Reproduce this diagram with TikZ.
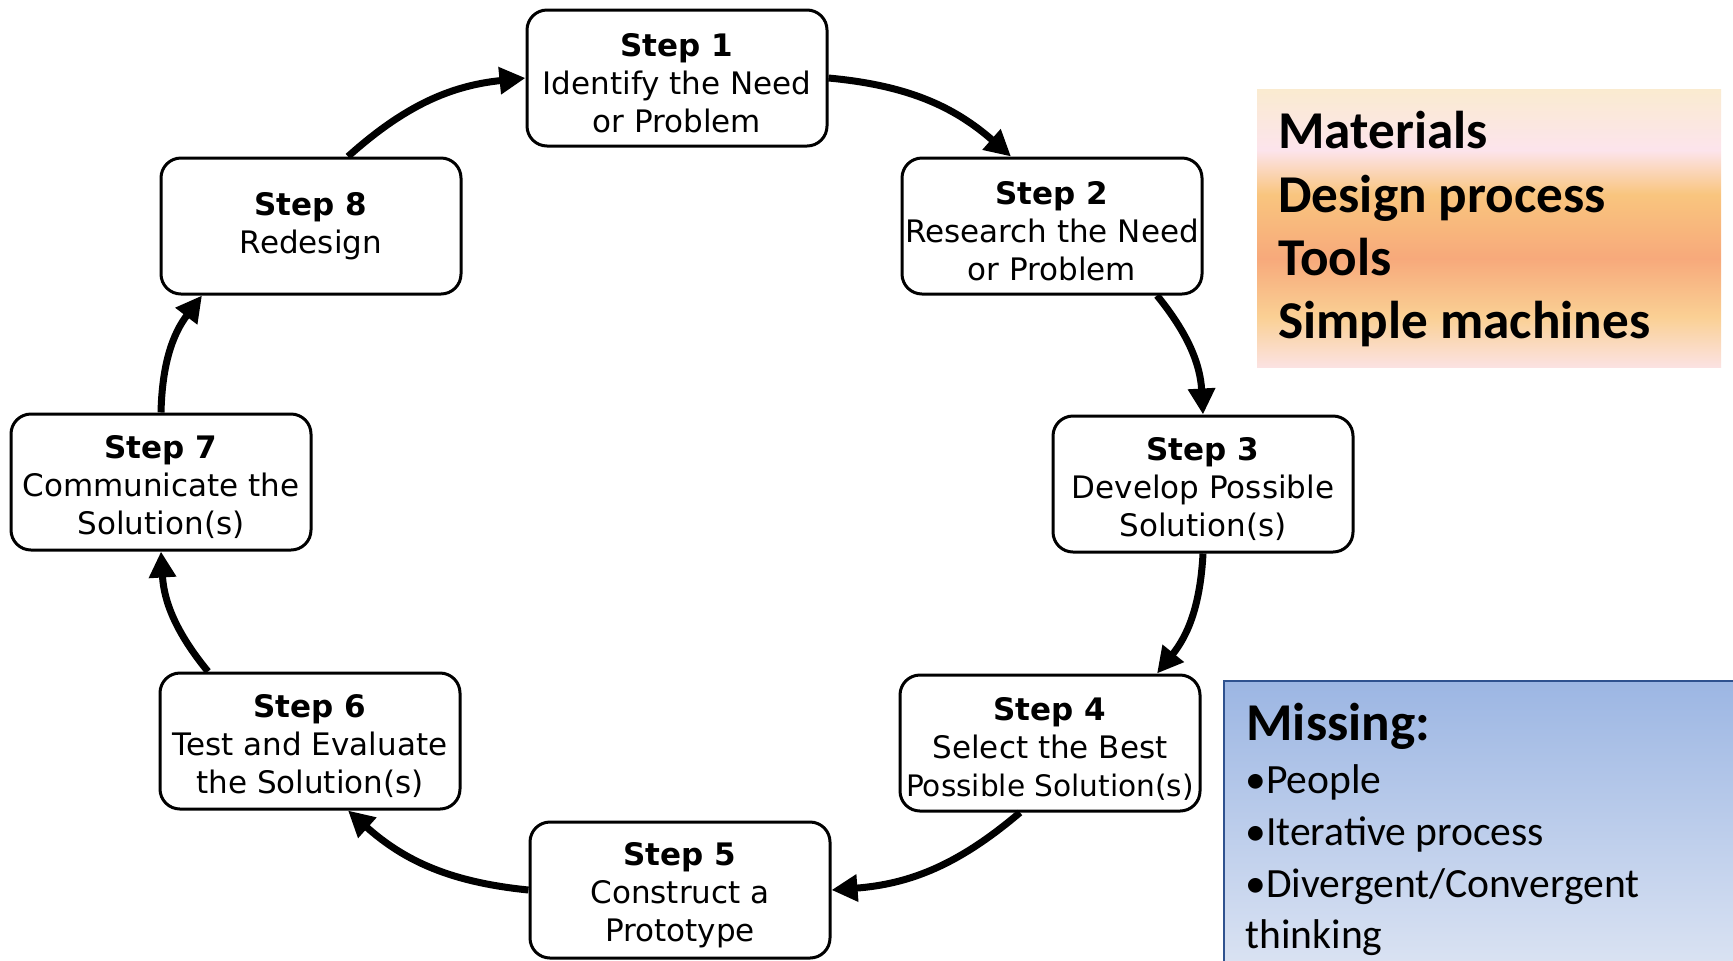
\documentclass[tikz,border=0pt]{standalone}
\usepackage{fontspec}
\setmainfont{DejaVu Sans}
\newfontfamily\calib{Carlito}
\usetikzlibrary{arrows.meta}

% colours of the warm note band (top to bottom)
\definecolor{wbA}{HTML}{FAEBD0}
\definecolor{wbB}{HTML}{FCE4EC}
\definecolor{wbC}{HTML}{F9C57E}
\definecolor{wbD}{HTML}{F7A97B}
\definecolor{wbE}{HTML}{FAD094}
\definecolor{wbF}{HTML}{FBE2E2}
\definecolor{noteTop}{HTML}{9CB6E3}
\definecolor{noteBot}{HTML}{DCE4F3}
\definecolor{noteEdge}{HTML}{2F528F}

\pgfdeclareverticalshading{warmband}{100bp}{%
  color(0bp)=(wbF); color(25bp)=(wbF); color(34bp)=(wbE); color(44.5bp)=(wbD);
  color(56bp)=(wbC); color(64bp)=(wbB); color(75bp)=(wbA); color(100bp)=(wbA)}

\newcommand\stepfont{\fontsize{15.5pt}{19pt}\selectfont}
% heading of a three-line step box, with a taller strut to lower the block
\newcommand\stephead[1]{\rule{0pt}{17pt}\textbf{#1}}
% slightly narrower setting for the longest line
\newcommand\narrowline[1]{{\fontsize{14.8pt}{19pt}\selectfont #1}}

\tikzset{
  stepbox/.style={draw, line width=1.5pt, rounded corners=10pt,
    minimum width=150pt, minimum height=68pt, inner sep=0pt,
    align=center, font=\stepfont},
  flow/.style={line width=3.5pt, -{Triangle[length=13pt,width=13pt]}, bend left=18},
  bigline/.style={anchor=base west, inner sep=0pt,
    font={\calib\bfseries\fontsize{26.6pt}{32pt}\selectfont}},
  itemline/.style={anchor=base west, inner sep=0pt,
    font={\calib\fontsize{20.8pt}{26pt}\selectfont}},
}

\begin{document}
\begin{tikzpicture}[x=0.5pt, y=-0.5pt]
\useasboundingbox (0,0) rectangle (1733,960);

% the eight steps of the cycle
\node[stepbox] (s1) at (677,78)  {\stephead{Step 1}\\Identify the Need\\or Problem};
\node[stepbox] (s2) at (1052,226) {\stephead{Step 2}\\Research the Need\\or Problem};
\node[stepbox] (s3) at (1203,484) {\stephead{Step 3}\\Develop Possible\\Solution(s)};
\node[stepbox] (s4) at (1050,743) {\stephead{Step 4}\\Select the Best\\\narrowline{Possible Solution(s)}};
\node[stepbox] (s5) at (680,890) {\stephead{Step 5}\\Construct a\\Prototype};
\node[stepbox] (s6) at (310,741) {\stephead{Step 6}\\Test and Evaluate\\the Solution(s)};
\node[stepbox] (s7) at (161,482) {\stephead{Step 7}\\Communicate the\\Solution(s)};
\node[stepbox] (s8) at (311,226) {\textbf{Step 8}\\Redesign};

% clockwise connectors
\draw[flow] (s1.east) to ([xshift=-20.5pt]s2.north);
\draw[flow] ([xshift=52.5pt]s2.south) to (s3.north);
\draw[flow] (s3.south) to ([xshift=53.5pt]s4.north);
\draw[flow] ([xshift=-15pt]s4.south) to (s5.east);
\draw[flow] (s5.west) to ([xshift=19pt]s6.south);
\draw[flow] ([xshift=-51pt]s6.north) to (s7.south);
\draw[flow] (s7.north) to ([xshift=-54.5pt]s8.south);
\draw[flow] ([xshift=18.5pt]s8.north) to (s1.west);

% topics note
\shade[shading=warmband] (1257,89) rectangle (1721,367);
\node[bigline] (tMat)  at (1278,148) {Materials};
\node[bigline] (tDes)  at (1278,212) {Design process};
\node[bigline] (tTool) at (1278,275) {Tools};
\node[bigline] (tSim)  at (1278,338) {Simple machines};

% missing-items note
\draw[noteEdge, line width=1pt, top color=noteTop, bottom color=noteBot]
  (1224,681) rectangle (1745,975);
\node[bigline] (missing) at (1246,740) {Missing:};
\node[itemline] (iPeople) at (1245,793) {\textbullet People};
\node[itemline] (iIter)   at (1245,845) {\textbullet Iterative process};
\node[itemline] (iDiv)    at (1245,897) {\textbullet Divergent/Convergent};
\node[itemline] (iThink)  at (1245,948) {thinking};
\end{tikzpicture}
\end{document}
